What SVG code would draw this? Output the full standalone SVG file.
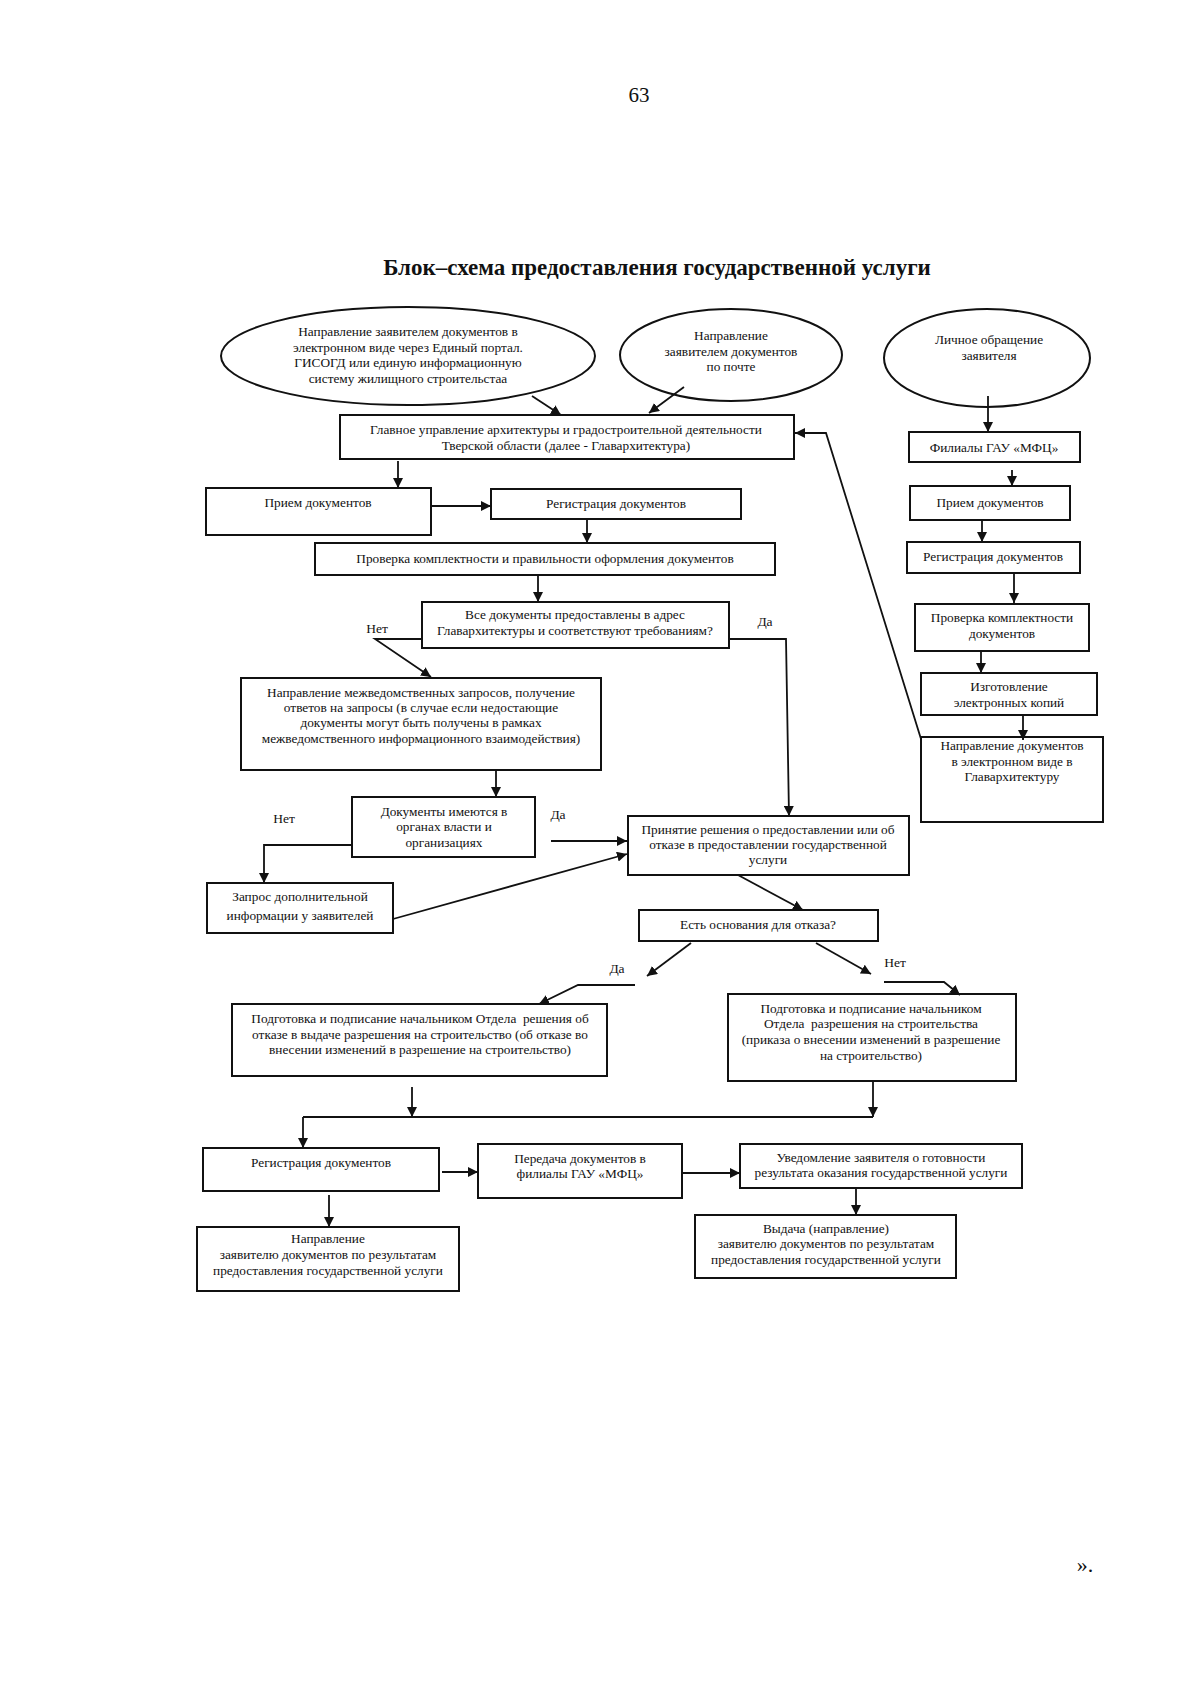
<svg xmlns="http://www.w3.org/2000/svg" width="1200" height="1700" viewBox="0 0 1200 1700">
<style>
.bg{fill:#ffffff}
.box{fill:#ffffff;stroke:#111;stroke-width:2}
.t{font-family:"Liberation Serif","Times New Roman",serif;font-size:13.3px;fill:#111;text-anchor:middle}
.lbl{font-family:"Liberation Serif","Times New Roman",serif;font-size:13.5px;fill:#111;text-anchor:middle}
.c{fill:none;stroke:#111;stroke-width:1.8}
</style>
<defs>
<marker id="ah" viewBox="0 0 10 10" refX="10" refY="5" markerWidth="10" markerHeight="10" markerUnits="userSpaceOnUse" orient="auto">
<path d="M0,0 L10,5 L0,10 z" fill="#111"/>
</marker>
</defs>
<rect class="bg" x="0" y="0" width="1200" height="1700"/>
<text x="639" y="102" style="font-family:'Liberation Serif',serif;font-size:21px;fill:#111;text-anchor:middle">63</text>
<text x="657" y="275" style="font-family:'Liberation Serif',serif;font-size:23px;font-weight:bold;fill:#111;text-anchor:middle">Блок–схема предоставления государственной услуги</text>

<g id="e1"><ellipse class="box" cx="408" cy="356" rx="187" ry="49"/>
<text class="t" x="408" y="336">Направление заявителем документов в</text>
<text class="t" x="408" y="352">электронном виде через Единый портал.</text>
<text class="t" x="408" y="367">ГИСОГД или единую информационную</text>
<text class="t" x="408" y="383">систему жилищного строительстаа</text></g>

<g id="e2"><ellipse class="box" cx="731" cy="355" rx="111" ry="46"/>
<text class="t" x="731" y="340">Направление</text>
<text class="t" x="731" y="356">заявителем документов</text>
<text class="t" x="731" y="371">по почте</text></g>

<g id="e3"><ellipse class="box" cx="987" cy="358" rx="103" ry="49"/>
<text class="t" x="989" y="344">Личное обращение</text>
<text class="t" x="989" y="360">заявителя</text></g>

<g id="glav"><rect class="box" x="340" y="415" width="454" height="44"/>
<text class="t" x="566" y="434">Главное управление архитектуры и градостроительной деятельности</text>
<text class="t" x="566" y="450">Тверской области (далее - Главархитектура)</text></g>

<g id="mfc"><rect class="box" x="909" y="432" width="171" height="30"/>
<text class="t" x="994" y="452">Филиалы ГАУ «МФЦ»</text></g>
<g id="r_priem"><rect class="box" x="910" y="486" width="160" height="34"/>
<text class="t" x="990" y="507">Прием документов</text></g>
<g id="r_reg"><rect class="box" x="907" y="542" width="173" height="31"/>
<text class="t" x="993" y="561">Регистрация документов</text></g>
<g id="r_prov"><rect class="box" x="915" y="604" width="174" height="47"/>
<text class="t" x="1002" y="622">Проверка комплектности</text>
<text class="t" x="1002" y="638">документов</text></g>
<g id="r_izg"><rect class="box" x="921" y="673" width="176" height="42"/>
<text class="t" x="1009" y="691">Изготовление</text>
<text class="t" x="1009" y="707">электронных копий</text></g>
<g id="r_napr"><rect class="box" x="921" y="737" width="182" height="85"/>
<text class="t" x="1012" y="750">Направление документов</text>
<text class="t" x="1012" y="766">в электронном виде в</text>
<text class="t" x="1012" y="781">Главархитектуру</text></g>

<g id="l_priem"><rect class="box" x="206" y="488" width="225" height="47"/>
<text class="t" x="318" y="507">Прием документов</text></g>
<g id="l_reg"><rect class="box" x="491" y="489" width="250" height="30"/>
<text class="t" x="616" y="508">Регистрация документов</text></g>
<g id="l_prov"><rect class="box" x="315" y="543" width="460" height="32"/>
<text class="t" x="545" y="563">Проверка комплектности и правильности оформления документов</text></g>
<g id="vse"><rect class="box" x="422" y="602" width="307" height="46"/>
<text class="t" x="575" y="619">Все документы предоставлены в адрес</text>
<text class="t" x="575" y="635">Главархитектуры и соответствуют требованиям?</text></g>
<g id="mezh"><rect class="box" x="241" y="678" width="360" height="92"/>
<text class="t" x="421" y="697">Направление межведомственных запросов, получение</text>
<text class="t" x="421" y="712">ответов на запросы (в случае если недостающие</text>
<text class="t" x="421" y="727">документы могут быть получены в рамках</text>
<text class="t" x="421" y="743">межведомственного информационного взаимодействия)</text></g>
<g id="imeyut"><rect class="box" x="352" y="797" width="183" height="60"/>
<text class="t" x="444" y="816">Документы имеются в</text>
<text class="t" x="444" y="831">органах власти и</text>
<text class="t" x="444" y="847">организациях</text></g>
<g id="zapros"><rect class="box" x="207" y="883" width="186" height="50"/>
<text class="t" x="300" y="901">Запрос дополнительной</text>
<text class="t" x="300" y="920">информации у заявителей</text></g>
<g id="prinyatie"><rect class="box" x="628" y="816" width="281" height="59"/>
<text class="t" x="768" y="834">Принятие решения о предоставлении или об</text>
<text class="t" x="768" y="849">отказе в предоставлении государственной</text>
<text class="t" x="768" y="864">услуги</text></g>
<g id="osnov"><rect class="box" x="639" y="910" width="239" height="31"/>
<text class="t" x="758" y="929">Есть основания для отказа?</text></g>
<g id="otkaz"><rect class="box" x="232" y="1004" width="375" height="72"/>
<text class="t" x="420" y="1023" xml:space="preserve">Подготовка и подписание начальником Отдела  решения об</text>
<text class="t" x="420" y="1039">отказе в выдаче разрешения на строительство (об отказе во</text>
<text class="t" x="420" y="1054">внесении изменений в разрешение на строительство)</text></g>
<g id="razr"><rect class="box" x="728" y="994" width="288" height="87"/>
<text class="t" x="871" y="1013">Подготовка и подписание начальником</text>
<text class="t" x="871" y="1028" xml:space="preserve">Отдела  разрешения на строительства</text>
<text class="t" x="871" y="1044">(приказа о внесении изменений в разрешение</text>
<text class="t" x="871" y="1060">на строительство)</text></g>
<g id="b_reg"><rect class="box" x="203" y="1148" width="236" height="43"/>
<text class="t" x="321" y="1167">Регистрация документов</text></g>
<g id="b_pered"><rect class="box" x="478" y="1144" width="204" height="54"/>
<text class="t" x="580" y="1163">Передача документов в</text>
<text class="t" x="580" y="1178">филиалы ГАУ «МФЦ»</text></g>
<g id="b_uved"><rect class="box" x="740" y="1144" width="282" height="44"/>
<text class="t" x="881" y="1162">Уведомление заявителя о готовности</text>
<text class="t" x="881" y="1177">результата оказания государственной услуги</text></g>
<g id="b_vyd"><rect class="box" x="695" y="1215" width="261" height="63"/>
<text class="t" x="826" y="1233">Выдача (направление)</text>
<text class="t" x="826" y="1248">заявителю документов по результатам</text>
<text class="t" x="826" y="1264">предоставления государственной услуги</text></g>
<g id="b_napr"><rect class="box" x="197" y="1227" width="262" height="64"/>
<text class="t" x="328" y="1243">Направление</text>
<text class="t" x="328" y="1259">заявителю документов по результатам</text>
<text class="t" x="328" y="1275">предоставления государственной услуги</text></g>

<g id="labels">
<text class="lbl" x="377" y="633">Нет</text>
<text class="lbl" x="765" y="626">Да</text>
<text class="lbl" x="284" y="823">Нет</text>
<text class="lbl" x="558" y="819">Да</text>
<text class="lbl" x="617" y="973">Да</text>
<text class="lbl" x="895" y="967">Нет</text>
</g>

<g id="connectors">
<line class="c" x1="532" y1="396" x2="561" y2="415" marker-end="url(#ah)"/>
<line class="c" x1="684" y1="387" x2="649" y2="413" marker-end="url(#ah)"/>
<line class="c" x1="988" y1="396" x2="988" y2="432" marker-end="url(#ah)"/>
<line class="c" x1="1012" y1="470" x2="1012" y2="486" marker-end="url(#ah)"/>
<line class="c" x1="982" y1="520" x2="982" y2="542" marker-end="url(#ah)"/>
<line class="c" x1="1014" y1="573" x2="1014" y2="603" marker-end="url(#ah)"/>
<line class="c" x1="981" y1="651" x2="981" y2="673" marker-end="url(#ah)"/>
<line class="c" x1="1023" y1="715" x2="1023" y2="740" marker-end="url(#ah)"/>
<polyline class="c" points="921,739 826,433 795,433" marker-end="url(#ah)"/>
<line class="c" x1="398" y1="461" x2="398" y2="488" marker-end="url(#ah)"/>
<line class="c" x1="432" y1="506" x2="491" y2="506" marker-end="url(#ah)"/>
<line class="c" x1="587" y1="519" x2="587" y2="543" marker-end="url(#ah)"/>
<line class="c" x1="538" y1="575" x2="538" y2="602" marker-end="url(#ah)"/>
<polyline class="c" points="422,639 375,639 431,677" marker-end="url(#ah)"/>
<polyline class="c" points="729,639 786,639 789,816" marker-end="url(#ah)"/>
<line class="c" x1="496" y1="770" x2="496" y2="797" marker-end="url(#ah)"/>
<polyline class="c" points="352,845 264,845 264,883" marker-end="url(#ah)"/>
<line class="c" x1="551" y1="841" x2="627" y2="841" marker-end="url(#ah)"/>
<line class="c" x1="393" y1="919" x2="627" y2="854" marker-end="url(#ah)"/>
<line class="c" x1="738" y1="875" x2="803" y2="910" marker-end="url(#ah)"/>
<line class="c" x1="691" y1="943" x2="647" y2="976" marker-end="url(#ah)"/>
<line class="c" x1="816" y1="943" x2="871" y2="974" marker-end="url(#ah)"/>
<polyline class="c" points="635,985 578,985 539,1004" marker-end="url(#ah)"/>
<polyline class="c" points="884,982 944,982 960,995" marker-end="url(#ah)"/>
<line class="c" x1="412" y1="1087" x2="412" y2="1117" marker-end="url(#ah)"/>
<line class="c" x1="873" y1="1081" x2="873" y2="1117" marker-end="url(#ah)"/>
<line class="c" x1="303" y1="1117" x2="873" y2="1117"/>
<line class="c" x1="303" y1="1117" x2="303" y2="1148" marker-end="url(#ah)"/>
<line class="c" x1="442" y1="1172" x2="478" y2="1172" marker-end="url(#ah)"/>
<line class="c" x1="682" y1="1173" x2="740" y2="1173" marker-end="url(#ah)"/>
<line class="c" x1="856" y1="1189" x2="856" y2="1215" marker-end="url(#ah)"/>
<line class="c" x1="329" y1="1195" x2="329" y2="1227" marker-end="url(#ah)"/>
</g>
<text x="1085" y="1572" style="font-family:'Liberation Serif',serif;font-size:22px;fill:#111;text-anchor:middle">».</text>
</svg>
